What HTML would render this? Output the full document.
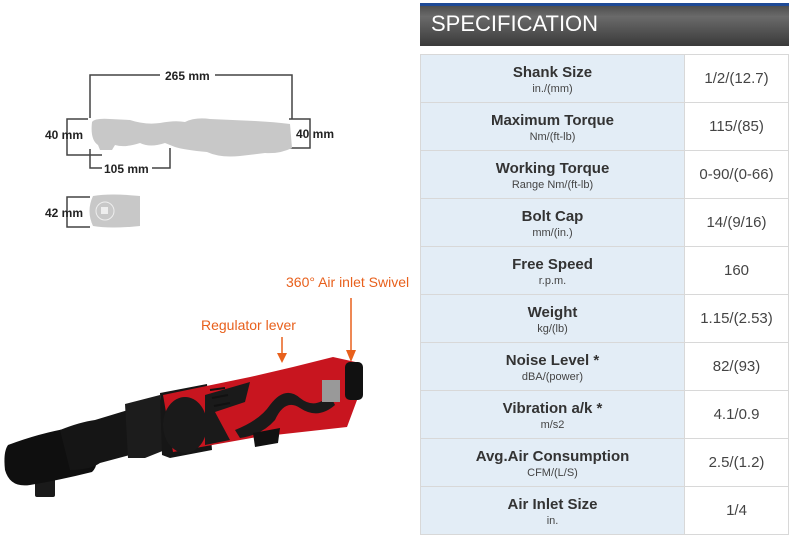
<!DOCTYPE html>
<html><head><meta charset="utf-8"><style>
body{margin:0;width:793px;height:537px;background:#fff;position:relative;overflow:hidden;font-family:"Liberation Sans",sans-serif}
#hdr{position:absolute;left:420px;top:0;width:369px;height:46px;background:linear-gradient(#4a4a4a,#6a6a6a 30%,#3a3a3a);border-top:4px solid #fff;box-sizing:border-box}
#hdr:before{content:"";position:absolute;left:0;top:-1px;width:100%;height:3px;background:#1f4a96}
#hdr span{position:absolute;left:11px;top:7px;color:#fff;font-size:22px}
table{position:absolute;left:420px;top:54px;width:369px;border-collapse:collapse}
td{border:1px solid #d8d8d8;height:47px;padding:0;text-align:center;color:#333}
td.l{background:#e3edf6;width:263px}
td.l b{display:block;font-size:15px;color:#333;margin-top:2px}
td.l i{display:block;font-style:normal;font-size:11px;color:#444;margin-top:2px}
td.v{font-size:15px;color:#444}
</style></head><body>
<div id="hdr"><span>SPECIFICATION</span></div>
<table>
<tr><td class="l"><b>Shank Size</b><i>in./(mm)</i></td><td class="v">1/2/(12.7)</td></tr>
<tr><td class="l"><b>Maximum Torque</b><i>Nm/(ft-lb)</i></td><td class="v">115/(85)</td></tr>
<tr><td class="l"><b>Working Torque</b><i>Range Nm/(ft-lb)</i></td><td class="v">0-90/(0-66)</td></tr>
<tr><td class="l"><b>Bolt Cap</b><i>mm/(in.)</i></td><td class="v">14/(9/16)</td></tr>
<tr><td class="l"><b>Free Speed</b><i>r.p.m.</i></td><td class="v">160</td></tr>
<tr><td class="l"><b>Weight</b><i>kg/(lb)</i></td><td class="v">1.15/(2.53)</td></tr>
<tr><td class="l"><b>Noise Level *</b><i>dBA/(power)</i></td><td class="v">82/(93)</td></tr>
<tr><td class="l"><b>Vibration a/k *</b><i>m/s2</i></td><td class="v">4.1/0.9</td></tr>
<tr><td class="l"><b>Avg.Air Consumption</b><i>CFM/(L/S)</i></td><td class="v">2.5/(1.2)</td></tr>
<tr><td class="l"><b>Air Inlet Size</b><i>in.</i></td><td class="v">1/4</td></tr>
</table>
<svg width="420" height="537" style="position:absolute;left:0;top:0" font-family="Liberation Sans, sans-serif">
<g stroke="#444" stroke-width="1.5" fill="none">
<polyline points="90,118 90,75 160,75"/><polyline points="215,75 292,75 292,119"/>
<polyline points="88,119 67,119 67,155 102,155"/>
<polyline points="90,149 90,168 102,168"/><polyline points="152,168 170,168 170,148"/>
<polyline points="289,119 310,119 310,148 289,148"/>
<polyline points="90,197 67,197 67,227 90,227"/>
</g>
<g font-size="12" font-weight="bold" fill="#222">
<text x="165" y="80">265 mm</text><text x="45" y="139">40 mm</text><text x="296" y="138">40 mm</text>
<text x="104" y="173">105 mm</text><text x="45" y="217">42 mm</text>
</g>
<path d="M92,122 Q95,118 110,119 L130,120 Q145,125 160,123 Q175,120 185,122 Q195,117 210,119 L255,121 Q275,122 290,124 L292,148 Q280,154 265,153 L240,156 Q220,158 207,152 Q185,150 175,147 L165,143 Q150,148 140,143 Q125,148 115,145 L112,150 L100,150 L98,145 Q90,140 92,122Z" fill="#c8c8c8"/>
<path d="M93,196 Q110,193 140,196 L140,226 Q110,229 93,226 Q86,211 93,196Z" fill="#c8c8c8"/>
<circle cx="105" cy="211" r="9" fill="none" stroke="#eee"/><rect x="101" y="207" width="7" height="7" fill="#eee"/>
<g fill="#e8601c" font-size="14"><text x="286" y="287">360° Air inlet Swivel</text><text x="201" y="330">Regulator lever</text></g>
<g stroke="#e8601c" stroke-width="1.5"><line x1="351" y1="298" x2="351" y2="352"/><line x1="282" y1="337" x2="282" y2="355"/></g>
<path d="M346,350 L351,362 L356,350Z M277,353 L282,363 L287,353Z" fill="#e8601c"/>
<!-- tool -->
<rect x="35" y="478" width="20" height="19" rx="2" fill="#1a1a1a"/>
<path d="M8,445 Q40,433 70,428 Q90,425 97,440 Q100,465 92,472 Q60,480 30,485 Q10,488 5,470 Q3,452 8,445Z" fill="#0f0f0f"/>
<path d="M60,430 Q80,422 95,420 L128,410 L130,455 L100,463 Q90,470 70,470Z" fill="#151515"/>
<path d="M125,404 L160,395 L165,450 L145,458 L128,458Z" fill="#1c1c1c"/>
<path d="M160,393 L207,384 L212,450 L170,458 L162,455Z" fill="#161616"/>
<path d="M163,395 L250,377 L293,367 L333,357 L360,363 L360,392 L347,427 L257,437 L173,452Z" fill="#c8151f"/>
<ellipse cx="185" cy="425" rx="22" ry="28" fill="#1a1a1a"/>
<path d="M205,395 L250,382 L245,402 L215,412 L230,440 L205,445Z" fill="#1a1a1a"/>
<path d="M235,430 Q260,420 270,405 Q285,385 300,398 Q315,410 330,395 L335,405 Q318,420 300,408 Q285,398 275,420 Q262,435 240,438Z" fill="#1a1a1a"/>
<path d="M210,390 L225,388 M212,398 L228,395 M214,406 L230,403" stroke="#111" stroke-width="2"/>
<rect x="322" y="380" width="18" height="22" fill="#999"/>
<path d="M253,433 L280,428 L278,443 L255,447Z" fill="#111"/>
<rect x="345" y="362" width="18" height="38" rx="5" fill="#111"/>
</svg>
</body></html>
